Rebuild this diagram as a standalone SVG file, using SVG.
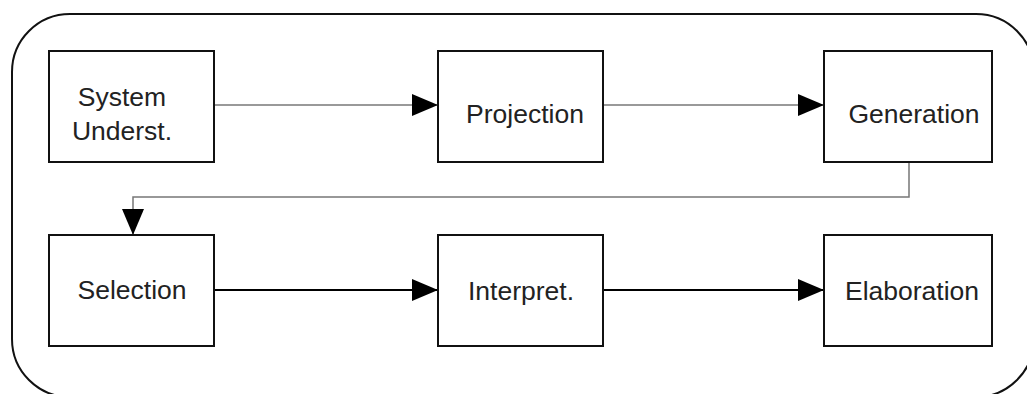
<svg xmlns="http://www.w3.org/2000/svg" width="1027" height="394" viewBox="0 0 1027 394">
<style>
.box{fill:#fff;stroke:#111;stroke-width:2}
.lbl{font-family:"Liberation Sans",Arial,sans-serif;font-size:26.5px;fill:#222;text-anchor:middle}
.grey{fill:none;stroke:#777;stroke-width:1.5}
.blk{fill:none;stroke:#000;stroke-width:2}
</style>
<defs>
<marker id="ah" markerUnits="userSpaceOnUse" markerWidth="26" markerHeight="22" refX="26" refY="11" orient="auto" viewBox="0 0 26 22">
<path d="M0,0 L26,11 L0,22 z" fill="#000"/>
</marker>
</defs>
<rect x="12" y="14" width="1022" height="383" rx="58" ry="58" fill="#fff" stroke="#111" stroke-width="2"/>
<g id="connectors">
<path class="grey" d="M214,105 H438" marker-end="url(#ah)"/>
<path class="grey" d="M603,105 H824" marker-end="url(#ah)"/>
<path class="grey" d="M909,162 V197 H133 V235" marker-end="url(#ah)"/>
<path class="blk" d="M214,290 H438" marker-end="url(#ah)"/>
<path class="blk" d="M603,290 H824" marker-end="url(#ah)"/>
</g>
<g id="system">
<rect class="box" x="49" y="51" width="165" height="111"/>
<text class="lbl" x="122" y="106">System</text>
<text class="lbl" x="122" y="140">Underst.</text>
</g>
<g id="projection">
<rect class="box" x="438" y="51" width="165" height="111"/>
<text class="lbl" x="525" y="123">Projection</text>
</g>
<g id="generation">
<rect class="box" x="824" y="51" width="168" height="111"/>
<text class="lbl" x="914" y="123">Generation</text>
</g>
<g id="selection">
<rect class="box" x="49" y="235" width="165" height="111"/>
<text class="lbl" x="132" y="299">Selection</text>
</g>
<g id="interpret">
<rect class="box" x="438" y="235" width="165" height="111"/>
<text class="lbl" x="521" y="300">Interpret.</text>
</g>
<g id="elaboration">
<rect class="box" x="824" y="235" width="168" height="111"/>
<text class="lbl" x="912" y="300">Elaboration</text>
</g>
</svg>
